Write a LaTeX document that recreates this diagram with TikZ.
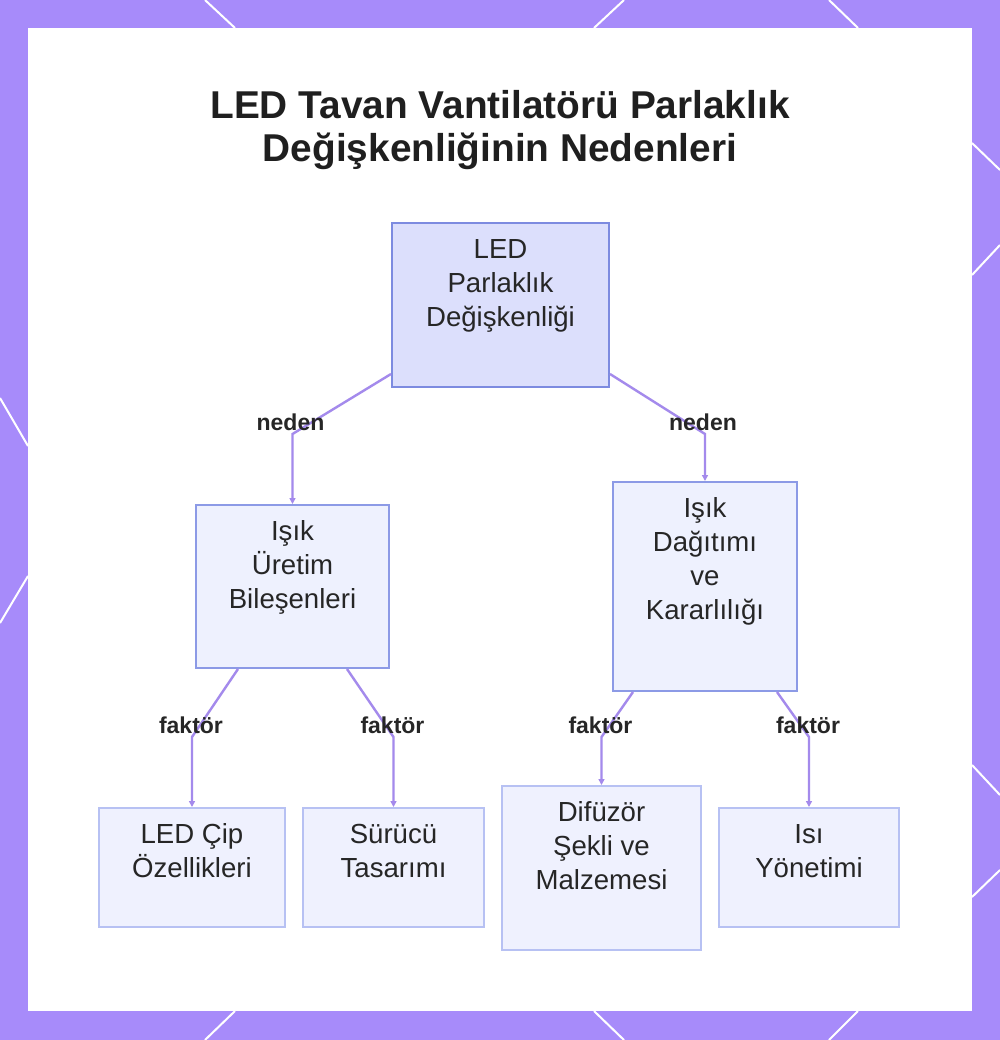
\documentclass[tikz,border=0pt]{standalone}
\usepackage{fontspec}
\setmainfont{Liberation Sans}
\usetikzlibrary{arrows.meta, calc}

\definecolor{framepurple}{HTML}{A78BFA}
\definecolor{linkpurple}{HTML}{A48AEC}
\definecolor{rootfill}{HTML}{DCDFFC}
\definecolor{rootdraw}{HTML}{7D8BE0}
\definecolor{midfill}{HTML}{EEF1FE}
\definecolor{middraw}{HTML}{8C9AE6}
\definecolor{leaffill}{HTML}{EFF1FE}
\definecolor{leafdraw}{HTML}{B7C1F3}
\definecolor{inktext}{HTML}{262626}

% box text sits at the top of the box
\newcommand{\boxlines}[3]{\parbox[c][#1][t]{#2}{\centering\fontsize{13.8}{17}\selectfont\vspace*{6pt}\strut #3}}

\begin{document}
\begin{tikzpicture}[x=0.5pt, y=-0.5pt, >={Triangle[length=3pt, width=3pt]},
  every node/.style={text=inktext},
  rootbox/.style={draw=rootdraw, fill=rootfill, line width=1pt, inner sep=0pt},
  midbox/.style={draw=middraw, fill=midfill, line width=1pt, inner sep=0pt},
  leafbox/.style={draw=leafdraw, fill=leaffill, line width=1pt, inner sep=0pt},
  link/.style={->, draw=linkpurple, line width=1.2pt},
  tag/.style={font=\fontsize{11.5}{13}\selectfont\bfseries, text=inktext}]
  \fill[framepurple] (0,0) rectangle (1000,1040);
  \useasboundingbox (0,0) rectangle (1000,1040);
  \fill[white] (28,28) rectangle (972,1011);
  \draw[white, line width=1pt] (205,0) -- (235,28) (624,0) -- (594,28) (829,0) -- (858,28);
  \draw[white, line width=1pt] (235,1011) -- (205,1040) (594,1011) -- (624,1040) (858,1011) -- (829,1040);
  \draw[white, line width=1pt] (0,398) -- (28,446) (28,576) -- (0,623);
  \draw[white, line width=1pt] (972,143) -- (1000,170) (972,275) -- (1000,245) (972,765) -- (1000,795) (972,897) -- (1000,870);

  \node[align=center, font=\fontsize{19.4}{21.5}\selectfont\bfseries, text=black!88] (title) at (500,130) {LED Tavan Vantilatörü Parlaklık\\Değişkenliğinin Nedenleri};

  \node[rootbox] (root) at (500.5,305) {\boxlines{82pt}{108.5pt}{LED\\Parlaklık\\Değişkenliği}};
  \node[midbox] (prod) at (292.5,586.5) {\boxlines{81.5pt}{96.5pt}{Işık\\Üretim\\Bileşenleri}};
  \node[midbox] (dist) at (705,586.5) {\boxlines{104.5pt}{92pt}{Işık\\Dağıtımı\\ve\\Kararlılığı}};
  \node[leafbox] (chip) at (192,867.5) {\boxlines{59.5pt}{93pt}{LED Çip\\Özellikleri}};
  \node[leafbox] (driver) at (393.5,867.5) {\boxlines{59.5pt}{90.5pt}{Sürücü\\Tasarımı}};
  \node[leafbox] (diffuser) at (601.5,868) {\boxlines{82pt}{99.5pt}{Difüzör\\Şekli ve\\Malzemesi}};
  \node[leafbox] (heat) at (809,867.5) {\boxlines{59.5pt}{90pt}{Isı\\Yönetimi}};

  % elbows of the connectors
  \coordinate (bendprod) at (292.5,434);
  \coordinate (benddist) at (705,434);
  \coordinate (bendchip) at (192,737);
  \coordinate (benddriver) at (393.5,737);
  \coordinate (benddiffuser) at (601.5,737);
  \coordinate (bendheat) at (809,737);

  \draw[link] ($(root.south west)+(0,-14)$) -- (bendprod) -- (prod.north);
  \draw[link] ($(root.south east)+(0,-14)$) -- (benddist) -- (dist.north);
  \draw[link] ($(prod.south)+(-54.5,0)$) -- (bendchip) -- (chip.north);
  \draw[link] ($(prod.south)+(54.5,0)$) -- (benddriver) -- (driver.north);
  \draw[link] ($(dist.south)+(-72,0)$) -- (benddiffuser) -- (diffuser.north);
  \draw[link] ($(dist.south)+(72,0)$) -- (bendheat) -- (heat.north);

  \node[tag] (tagprod) at ($(bendprod)+(-2,-12)$) {neden};
  \node[tag] (tagdist) at ($(benddist)+(-2,-12)$) {neden};
  \node[tag] (tagchip) at ($(bendchip)+(-1,-12)$) {faktör};
  \node[tag] (tagdriver) at ($(benddriver)+(-1,-12)$) {faktör};
  \node[tag] (tagdiffuser) at ($(benddiffuser)+(-1,-12)$) {faktör};
  \node[tag] (tagheat) at ($(bendheat)+(-1,-12)$) {faktör};
\end{tikzpicture}
\end{document}
